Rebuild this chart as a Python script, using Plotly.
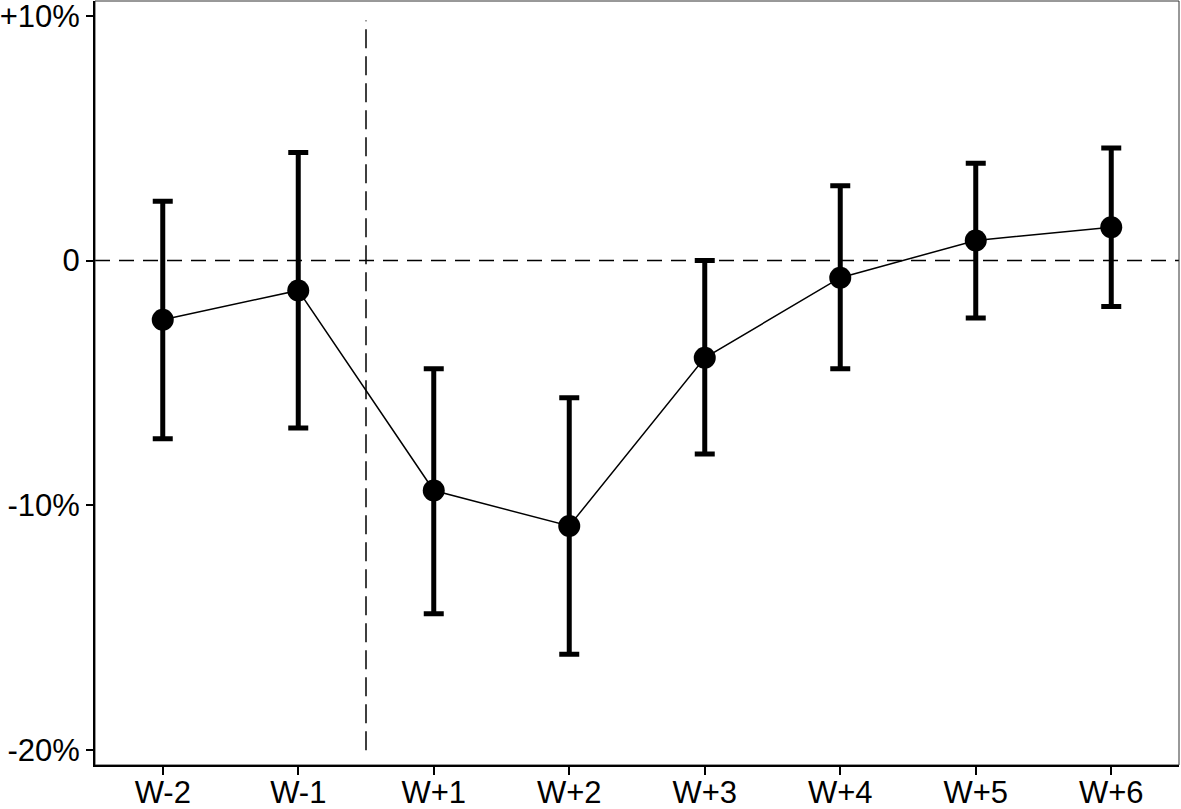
"""Event-study style plot: weekly effect with confidence intervals."""
import plotly.graph_objects as go

weeks = ["W-2", "W-1", "W+1", "W+2", "W+3", "W+4", "W+5", "W+6"]
effect = [-2.42, -1.22, -9.39, -10.84, -3.97, -0.70, 0.82, 1.36]
ci_upper = [2.42, 4.41, -4.42, -5.60, 0.0, 3.06, 3.97, 4.60]
ci_lower = [-7.28, -6.84, -14.42, -16.08, -7.90, -4.42, -2.35, -1.88]

y_ticks = [-20, -10, 0, 10]
y_labels = ["-20%", "-10%", "0", "+10%"]

err_plus = [u - e for u, e in zip(ci_upper, effect)]
err_minus = [e - l for e, l in zip(effect, ci_lower)]

fig = go.Figure()

fig.add_trace(go.Scatter(
    x=weeks, y=effect,
    mode='lines+markers',
    line=dict(color='black', width=1.5),
    marker=dict(color='black', size=22),
    error_y=dict(type='data', symmetric=False,
                 array=err_plus, arrayminus=err_minus,
                 color='black', thickness=5, width=10),
    showlegend=False,
))

# reference lines
fig.add_shape(type='line', xref='paper', yref='y', x0=0, x1=1, y0=0, y1=0,
              line=dict(color='black', width=1.5, dash='15px,9px'), layer='below')
fig.add_shape(type='line', xref='x', yref='y', x0=1.5, x1=1.5, y0=-20, y1=9.8,
              line=dict(color='black', width=1.5, dash='19px,8px'), layer='below')
# thin frame on top/right
fig.add_shape(type='rect', xref='paper', yref='paper', x0=0, x1=1, y0=0, y1=1,
              line=dict(color='#333333', width=1), layer='below')

fig.update_layout(
    template='none',
    width=1181, height=809,
    margin=dict(l=95, r=2, t=1, b=44),
    paper_bgcolor='white',
    plot_bgcolor='white',
    font=dict(family='Liberation Sans, Arial, sans-serif', size=31, color='black'),
    xaxis=dict(
        type='category',
        range=[-0.5, 7.5],
        automargin=False,
        showgrid=False, zeroline=False,
        showline=True, linecolor='black', linewidth=2,
        ticks='outside', ticklen=8, tickwidth=1.5, tickcolor='black',
        ticklabeloverflow='allow', ticklabelstandoff=-9,
    ),
    yaxis=dict(
        range=[-20.6, 10.6],
        tickvals=y_ticks, ticktext=y_labels,
        automargin=False,
        showgrid=False, zeroline=False,
        showline=True, linecolor='black', linewidth=2,
        ticks='outside', ticklen=7, tickwidth=1.5, tickcolor='black',
        ticklabeloverflow='allow',
    ),
)

fig.write_html("out.html", config={'displayModeBar': False},
               post_script="document.body.style.margin='0';")
